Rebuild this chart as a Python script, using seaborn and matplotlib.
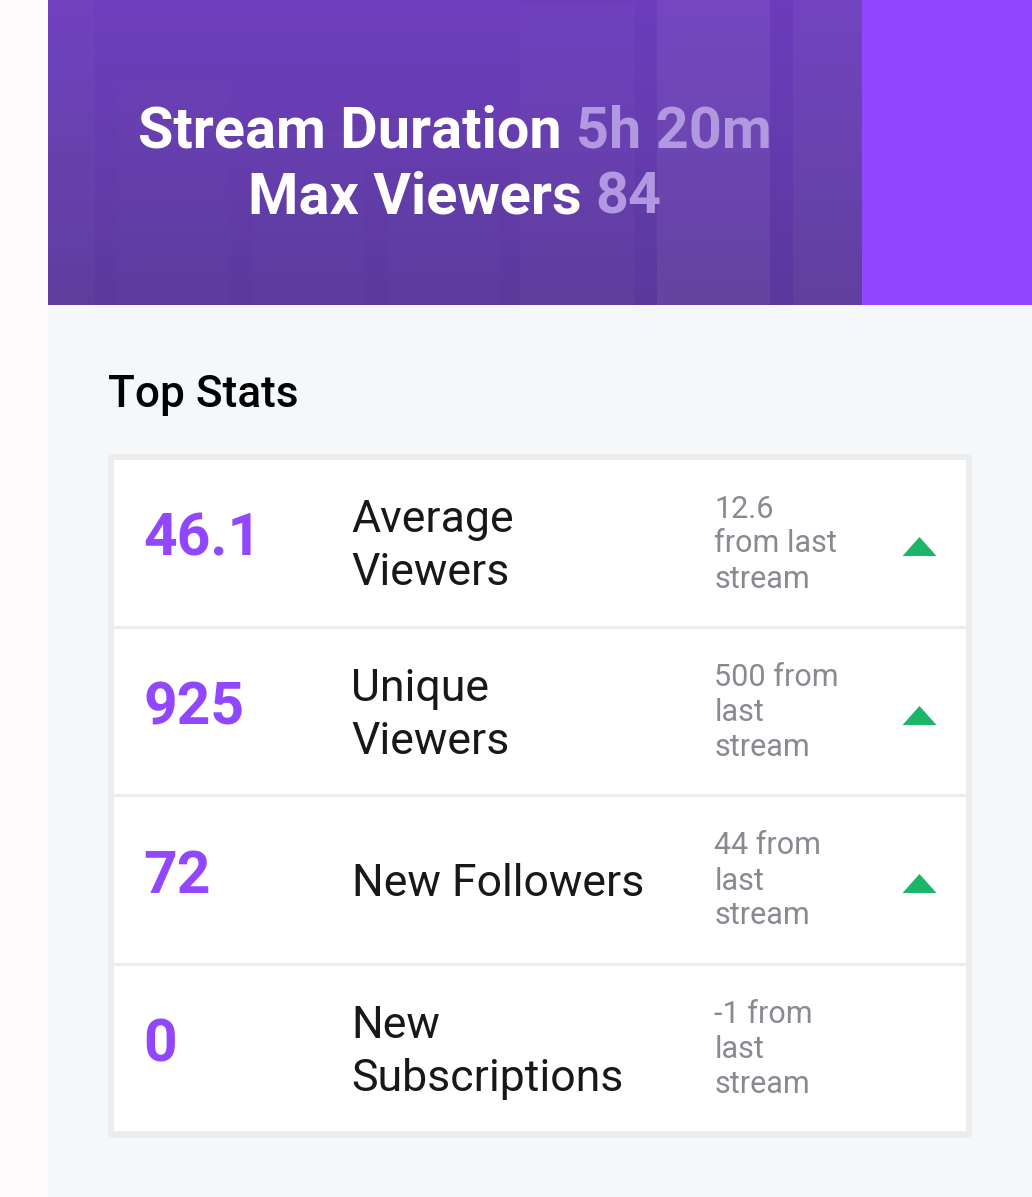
import numpy as np
import pandas as pd
import seaborn as sns
import matplotlib.pyplot as plt
from matplotlib.colors import LinearSegmentedColormap
from matplotlib.patches import Rectangle, FancyBboxPatch
from matplotlib.path import Path

# values
stat_values = ["46.1", "925", "72", "0"]
stat_labels = ["Average\nViewers", "Unique\nViewers", "New Followers", "New\nSubscriptions"]
stat_changes = ["12.6\nfrom last\nstream", "500 from\nlast\nstream", "44 from\nlast\nstream", "-1 from\nlast\nstream"]
stat_up = [True, True, True, False]
duration = "5h 20m"
max_viewers = "84"

W, H = 1032, 1197
PURPLE = "#9147FF"
ROW_TOP = 460
ROW_H = 168.5

sns.set_style("white")
plt.rcParams["font.family"] = ["Roboto", "DejaVu Sans"]

fig = plt.figure(figsize=(W / 100, H / 100), dpi=100)
ax = fig.add_axes([0, 0, 1, 1])
ax.axis("off")

# page background
ax.add_patch(Rectangle((0, 0), W, H, color="#FFFBFC", lw=0, zorder=0))
ax.add_patch(Rectangle((48, 0), W - 48, H, color="#F5F8FB", lw=0, zorder=0))

# header
cmap = LinearSegmentedColormap.from_list("hdr", ["#6F3DBE", "#653DAE", "#5B3A9B"])
grad = np.linspace(0, 1, 305).reshape(-1, 1)
ax.imshow(grad, cmap=cmap, extent=[48, 862, 305, 0], aspect="auto", zorder=1)
ax.add_patch(Rectangle((862, 0), W - 862, 305, color=PURPLE, lw=0, zorder=1))
for x0, x1, y0, col, a in [(48, 95, 0, "white", 0.025), (118, 230, 80, "white", 0.012),
                           (252, 365, 130, "white", 0.012), (388, 500, 180, "white", 0.012),
                           (520, 635, 5, "white", 0.02), (657, 770, 0, "white", 0.05),
                           (793, 862, 0, "white", 0.03), (635, 657, 0, "#5A2DB0", 0.06),
                           (770, 793, 0, "#5A2DB0", 0.08)]:
    ax.add_patch(Rectangle((x0, y0), x1 - x0, 305 - y0, color=col, alpha=a, lw=0, zorder=2))

ax.set_xlim(0, W)
ax.set_ylim(H, 0)

# header text
hkw = dict(fontsize=41.5, fontweight="bold", va="baseline", zorder=5)
ax.text(138, 147, "Stream Duration", color="white", **hkw)
ax.text(576, 147, duration, color="#B198E0", **hkw)
ax.text(247.5, 213.5, "Max Viewers", color="white", **hkw)
ax.text(595.5, 213.5, max_viewers, color="#B198E0", **hkw)

ax.text(108, 407, "Top Stats", color="black", fontsize=31.8, fontweight="medium", va="baseline")

# card
ax.add_patch(FancyBboxPatch((108, 454), 864, 684, boxstyle="round,pad=0,rounding_size=5",
                            fc="#EDEDEE", lw=0, zorder=1))
for i in range(4):
    ax.add_patch(Rectangle((114, ROW_TOP + i * ROW_H), 852, ROW_H - 3, fc="white", lw=0, zorder=2))

for i in range(4):
    top = ROW_TOP + i * ROW_H
    ax.text(143, top + 96, stat_values[i], color=PURPLE, fontsize=42.3, fontweight="bold",
            va="baseline", zorder=5)
    lines = stat_labels[i].split("\n")
    if len(lines) == 2:
        ax.text(351.5, top + 72, lines[0], color="#18181B", fontsize=32.1, va="baseline", zorder=5)
        ax.text(351.5, top + 125, lines[1], color="#18181B", fontsize=32.1, va="baseline", zorder=5)
    else:
        ax.text(351.5, top + 99, lines[0], color="#18181B", fontsize=32.1, va="baseline", zorder=5)
    for j, line in enumerate(stat_changes[i].split("\n")):
        ax.text(714.5, top + 57.5 + j * 35, line, color="#8A8891", fontsize=22, va="baseline", zorder=5)

# arrows
arrows = pd.DataFrame({"x": [919] * 4, "y": [ROW_TOP + i * ROW_H + 86 for i in range(4)], "up": stat_up})
tri = Path([(-1, -0.56), (1, -0.56), (0, 0.56), (-1, -0.56)], closed=True)
sns.scatterplot(data=arrows[arrows["up"]], x="x", y="y", marker=tri, s=600, color="#1DB567",
                linewidth=0, legend=False, ax=ax, zorder=6)
ax.axis("off")

fig.savefig("out.png", dpi=100)
